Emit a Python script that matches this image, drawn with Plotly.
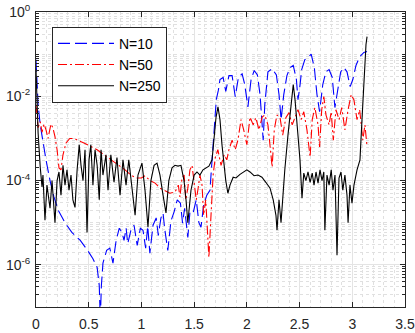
import plotly.graph_objects as go

# ── data ───────────────────────────────────────────────────────────────────
x_n10 = [0.00, 0.01, 0.02, 0.04, 0.066, 0.095, 0.133, 0.17, 0.21, 0.275, 0.34, 0.42,
         0.49, 0.54, 0.58, 0.60, 0.61, 0.62, 0.635, 0.67, 0.70, 0.73, 0.76, 0.79,
         0.815, 0.835, 0.855, 0.87, 0.90, 0.93, 0.96, 0.99, 1.015, 1.04, 1.06, 1.08,
         1.11, 1.14, 1.16, 1.185, 1.205, 1.22, 1.25, 1.28, 1.31, 1.34, 1.37, 1.39,
         1.41, 1.44, 1.46, 1.49, 1.52, 1.545, 1.565, 1.59, 1.62, 1.65, 1.67, 1.69,
         1.71, 1.73, 1.745, 1.775, 1.80, 1.83, 1.86, 1.89, 1.92, 1.955, 1.98, 2.01,
         2.04, 2.07, 2.10, 2.125, 2.155, 2.17, 2.20, 2.24, 2.28, 2.305, 2.325, 2.35,
         2.38, 2.41, 2.44, 2.47, 2.485, 2.505, 2.52, 2.55, 2.58, 2.61, 2.64, 2.665,
         2.69, 2.72, 2.75, 2.78, 2.81, 2.835, 2.865, 2.89, 2.92, 2.95, 2.98, 3.005,
         3.035, 3.07, 3.11, 3.14]
y_n10 = [7.4e-2, 1.9e-2, 6.3e-3, 2.1e-3, 7.8e-4, 3.1e-4, 1.0e-4, 4.1e-5, 2.0e-5, 1.0e-5,
         5.9e-6, 3.8e-6, 2.2e-6, 1.4e-6, 8.7e-7, 3.2e-7, 5.0e-8, 3.2e-7, 1.1e-6, 2.2e-6,
         2.5e-6, 1.1e-6, 3.8e-6, 7.4e-6, 5.9e-6, 3.8e-6, 7.4e-6, 3.2e-6, 6.6e-6, 8.7e-6,
         2.9e-6, 7.4e-6, 6.6e-6, 2.5e-6, 8.3e-6, 1.9e-6, 8.7e-6, 1.3e-5, 5.0e-6, 1.3e-5,
         1.7e-5, 7.4e-6, 2.2e-6, 1.1e-5, 1.8e-5, 3.5e-5, 2.9e-5, 9.8e-6, 2.2e-5, 4.5e-6,
         1.8e-5, 1.7e-5, 3.5e-5, 1.0e-5, 7.8e-6, 2.6e-5, 4.5e-5, 5.9e-5, 3.1e-4, 2.1e-3,
         8.3e-3, 1.4e-2, 2.5e-2, 2.8e-2, 1.3e-2, 3.1e-2, 3.1e-2, 9.8e-3, 2.8e-2, 3.4e-2,
         1.9e-2, 5.6e-3, 2.5e-2, 4.1e-2, 3.2e-2, 1.1e-2, 9.1e-4, 6.3e-3, 3.8e-2, 4.5e-2,
         3.2e-2, 1.1e-2, 2.8e-3, 1.1e-2, 3.1e-2, 4.8e-2, 5.4e-2, 2.5e-2, 8.3e-3, 1.9e-2,
         4.3e-2, 7.4e-2, 8.3e-2, 1.0e-1, 4.8e-2, 1.1e-2, 4.3e-3, 1.9e-2, 3.8e-2, 4.3e-2,
         2.8e-2, 5.4e-3, 1.4e-2, 3.8e-2, 4.8e-2, 3.8e-2, 1.7e-2, 2.5e-2, 5.4e-2, 8.7e-2,
         1.1e-1, 1.15e-1]

x_n50 = [0.00, 0.02, 0.04, 0.057, 0.076, 0.095, 0.114, 0.142, 0.16, 0.18, 0.20, 0.218,
         0.237, 0.256, 0.285, 0.32, 0.36, 0.40, 0.455, 0.51, 0.58, 0.645, 0.71, 0.78,
         0.845, 0.90, 0.95, 1.00, 1.035, 1.08, 1.13, 1.175, 1.22, 1.27, 1.32, 1.35,
         1.365, 1.385, 1.405, 1.42, 1.44, 1.46, 1.48, 1.50, 1.52, 1.535, 1.555, 1.575,
         1.59, 1.61, 1.63, 1.64, 1.66, 1.68, 1.70, 1.725, 1.755, 1.785, 1.81, 1.83,
         1.86, 1.89, 1.915, 1.945, 1.97, 2.00, 2.03, 2.06, 2.085, 2.115, 2.145, 2.17,
         2.20, 2.22, 2.24, 2.26, 2.285, 2.315, 2.34, 2.37, 2.40, 2.43, 2.455, 2.485,
         2.515, 2.54, 2.57, 2.60, 2.62, 2.645, 2.675, 2.69, 2.71, 2.73, 2.75, 2.78,
         2.80, 2.82, 2.845, 2.875, 2.90, 2.93, 2.96, 2.99, 3.015, 3.045, 3.07, 3.10,
         3.12, 3.14]
y_n50 = [6.3e-3, 1.8e-3, 2.5e-3, 1.4e-3, 2.2e-3, 1.6e-3, 1.0e-3, 2.2e-3, 1.8e-3, 1.1e-3,
         5.4e-4, 2.0e-4, 1.8e-4, 4.1e-4, 7.8e-4, 1.0e-3, 1.0e-3, 9.1e-4, 7.8e-4, 6.6e-4,
         5.4e-4, 4.1e-4, 3.1e-4, 2.3e-4, 1.8e-4, 1.35e-4, 1.15e-4, 1.15e-4, 1.3e-4, 1.0e-4,
         8.7e-5, 6.6e-5, 5.9e-5, 5.0e-5, 5.4e-5, 7.8e-5, 4.1e-5, 1.15e-4, 1.35e-4, 3.5e-5,
         6.6e-5, 1.8e-4, 2.3e-4, 7.8e-5, 3.5e-5, 5.9e-5, 1.35e-4, 7.8e-5, 1.5e-5, 3.5e-5,
         5.0e-6, 1.5e-6, 1.5e-5, 1.35e-4, 3.5e-4, 5.4e-4, 2.3e-4, 4.1e-4, 3.1e-4, 5.4e-4,
         9.1e-4, 5.4e-4, 9.1e-4, 2.8e-3, 1.6e-3, 7.1e-4, 3.2e-3, 2.1e-3, 3.1e-3, 1.6e-3,
         3.2e-3, 3.6e-3, 2.1e-3, 7.1e-4, 2.1e-4, 1.6e-3, 3.6e-3, 3.1e-3, 1.2e-3, 3.1e-3,
         4.1e-3, 2.1e-3, 3.2e-3, 4.8e-3, 2.8e-3, 4.3e-3, 1.6e-3, 3.6e-4, 2.8e-3, 5.4e-3,
         2.1e-3, 6.3e-4, 4.8e-3, 9.8e-3, 3.6e-3, 2.1e-3, 4.3e-3, 9.1e-4, 4.8e-3, 2.8e-3,
         5.4e-3, 1.6e-3, 4.8e-3, 1.1e-2, 8.3e-3, 2.8e-3, 4.8e-3, 9.1e-4, 2.1e-3, 6.3e-4]

x_n250 = [0.00, 0.01, 0.02, 0.04, 0.057, 0.066, 0.085, 0.104, 0.114, 0.133, 0.152, 0.18,
          0.20, 0.218, 0.237, 0.256, 0.275, 0.294, 0.313, 0.332, 0.35, 0.37, 0.39, 0.41,
          0.427, 0.446, 0.465, 0.484, 0.503, 0.52, 0.54, 0.56, 0.58, 0.60, 0.617, 0.635,
          0.664, 0.683, 0.71, 0.74, 0.768, 0.797, 0.825, 0.854, 0.88, 0.91, 0.94, 0.967,
          1.005, 1.034, 1.062, 1.09, 1.12, 1.148, 1.176, 1.205, 1.233, 1.26, 1.29, 1.318,
          1.347, 1.375, 1.404, 1.423, 1.44, 1.47, 1.50, 1.527, 1.555, 1.584, 1.61, 1.64,
          1.67, 1.69, 1.707, 1.726, 1.745, 1.764, 1.783, 1.80, 1.82, 1.84, 1.87, 1.897,
          1.935, 1.973, 2.00, 2.03, 2.068, 2.106, 2.143, 2.18, 2.22, 2.25, 2.276, 2.286,
          2.305, 2.324, 2.343, 2.36, 2.39, 2.42, 2.44, 2.457, 2.476, 2.504, 2.523, 2.54,
          2.56, 2.58, 2.60, 2.62, 2.637, 2.656, 2.675, 2.694, 2.713, 2.73, 2.74, 2.76,
          2.78, 2.80, 2.817, 2.836, 2.855, 2.874, 2.893, 2.91, 2.93, 2.95, 2.96, 2.978,
          2.997, 3.016, 3.045, 3.073, 3.092, 3.11, 3.13, 3.14]
y_n250 = [4.3e-2, 8.3e-3, 1.35e-3, 2.1e-4, 7.1e-5, 1.35e-4, 1.15e-5, 7.8e-5, 4.5e-5, 2.2e-5,
          1.0e-4, 1.0e-5, 1.0e-4, 1.6e-4, 4.5e-5, 2.3e-4, 7.8e-5, 1.8e-4, 5.9e-5, 1.35e-4,
          3.5e-5, 2.3e-5, 1.8e-4, 7.1e-4, 2.3e-4, 1.0e-4, 5.4e-4, 5.9e-6, 3.1e-4, 7.1e-4,
          7.8e-5, 5.4e-4, 2.3e-4, 3.5e-5, 5.4e-4, 1.35e-4, 4.1e-4, 5.9e-5, 4.1e-4, 9.1e-5,
          3.5e-4, 4.5e-5, 3.1e-4, 7.8e-5, 3.1e-4, 5.9e-5, 1.5e-5, 1.35e-4, 2.6e-4, 5.9e-5,
          7.8e-6, 1.0e-4, 2.3e-4, 2.6e-4, 1.35e-4, 4.5e-5, 1.7e-5, 1.0e-4, 2.0e-4, 2.3e-4,
          2.2e-4, 2.3e-4, 1.0e-4, 3.5e-5, 1.0e-5, 5.9e-5, 1.35e-4, 1.6e-4, 1.35e-4, 1.8e-4,
          2.0e-4, 2.2e-4, 3.1e-4, 9.1e-4, 3.1e-3, 5.6e-3, 2.8e-3, 7.1e-4, 2.3e-4, 1.0e-4,
          5.0e-5, 7.8e-5, 1.2e-4, 1.15e-4, 1.4e-4, 1.6e-4, 1.8e-4, 1.6e-4, 1.3e-4, 1.35e-4,
          1.2e-4, 9.1e-5, 6.6e-5, 3.5e-5, 1.5e-5, 6.6e-6, 3.5e-5, 1.0e-5, 5.9e-5, 1.8e-4,
          1.2e-3, 8.3e-3, 1.9e-2, 8.3e-3, 2.1e-3, 3.1e-4, 3.8e-5, 1.5e-4, 1.0e-4, 1.6e-4,
          9.1e-5, 1.5e-4, 7.8e-5, 1.6e-4, 8.7e-5, 1.8e-4, 1.0e-4, 1.6e-4, 6.6e-6, 1.35e-4,
          7.8e-5, 1.8e-4, 5.9e-5, 1.35e-4, 1.7e-6, 1.15e-4, 1.6e-4, 5.9e-5, 1.35e-4, 4.5e-5,
          1.0e-5, 7.8e-5, 2.9e-5, 7.8e-5, 1.8e-4, 3.1e-4, 2.8e-3, 2.5e-2, 1.7e-1, 2.6e-1]

x_ticks = [0, 0.5, 1, 1.5, 2, 2.5, 3, 3.5]
x_ticktext = ["0", "0.5", "1", "1.5", "2", "2.5", "3", "3.5"]
y_ticks = [1e-6, 1e-4, 1e-2, 1e0]
y_ticktext = ["10<sup>-6</sup>", "10<sup>-4</sup>", "10<sup>-2</sup>", "10<sup>0</sup>"]

AX = "#262626"
FONT = "Liberation Sans, Arial, Helvetica, sans-serif"

fig = go.Figure()

fig.add_trace(go.Scatter(x=x_n10, y=y_n10, mode="lines", name="N=10",
                         line=dict(color="#0000ff", width=1.1, dash="12px,5px")))
fig.add_trace(go.Scatter(x=x_n50, y=y_n50, mode="lines", name="N=50",
                         line=dict(color="#ff0000", width=1.1, dash="9px,3px,2px,3px")))
fig.add_trace(go.Scatter(x=x_n250, y=y_n250, mode="lines", name="N=250",
                         line=dict(color="#000000", width=1.1)))

fig.update_layout(
    width=415,
    height=333,
    margin=dict(l=36, r=10, t=12, b=26),
    paper_bgcolor="white",
    plot_bgcolor="white",
    font=dict(family=FONT, size=14, color=AX),
    showlegend=True,
    legend=dict(
        x=0.0434, y=0.95, xanchor="left", yanchor="top",
        bgcolor="white", bordercolor=AX, borderwidth=1,
        font=dict(family=FONT, size=14, color="black"),
        itemwidth=56,
        tracegroupgap=0,
    ),
)

fig.update_xaxes(
    range=[0, 3.5],
    tickvals=x_ticks, ticktext=x_ticktext,
    ticks="inside", ticklen=5, tickcolor=AX,
    showline=True, linecolor=AX, linewidth=1, mirror="ticks",
    showgrid=True, gridcolor="#e4e4e4", gridwidth=1,
    zeroline=False, automargin=False,
    ticklabelstandoff=4,
    minor=dict(dtick=0.1, showgrid=True, gridcolor="#e0e0e0", griddash="dot",
               ticks=""),
)

fig.update_yaxes(
    type="log",
    range=[-7, 0],
    tickvals=y_ticks, ticktext=y_ticktext,
    ticks="inside", ticklen=5, tickcolor=AX,
    showline=True, linecolor=AX, linewidth=1, mirror="ticks",
    showgrid=True, gridcolor="#e4e4e4", gridwidth=1,
    zeroline=False, automargin=False,
    ticklabelstandoff=2,
    minor=dict(dtick="D1", showgrid=True, gridcolor="#e0e0e0", griddash="dot",
               ticks="inside", ticklen=3, tickcolor=AX),
)

# page body has a default 8px margin; drop it so the figure fills the window
fig.write_html("out.html", config={"displayModeBar": False},
               post_script="document.body.style.margin = '0';")
